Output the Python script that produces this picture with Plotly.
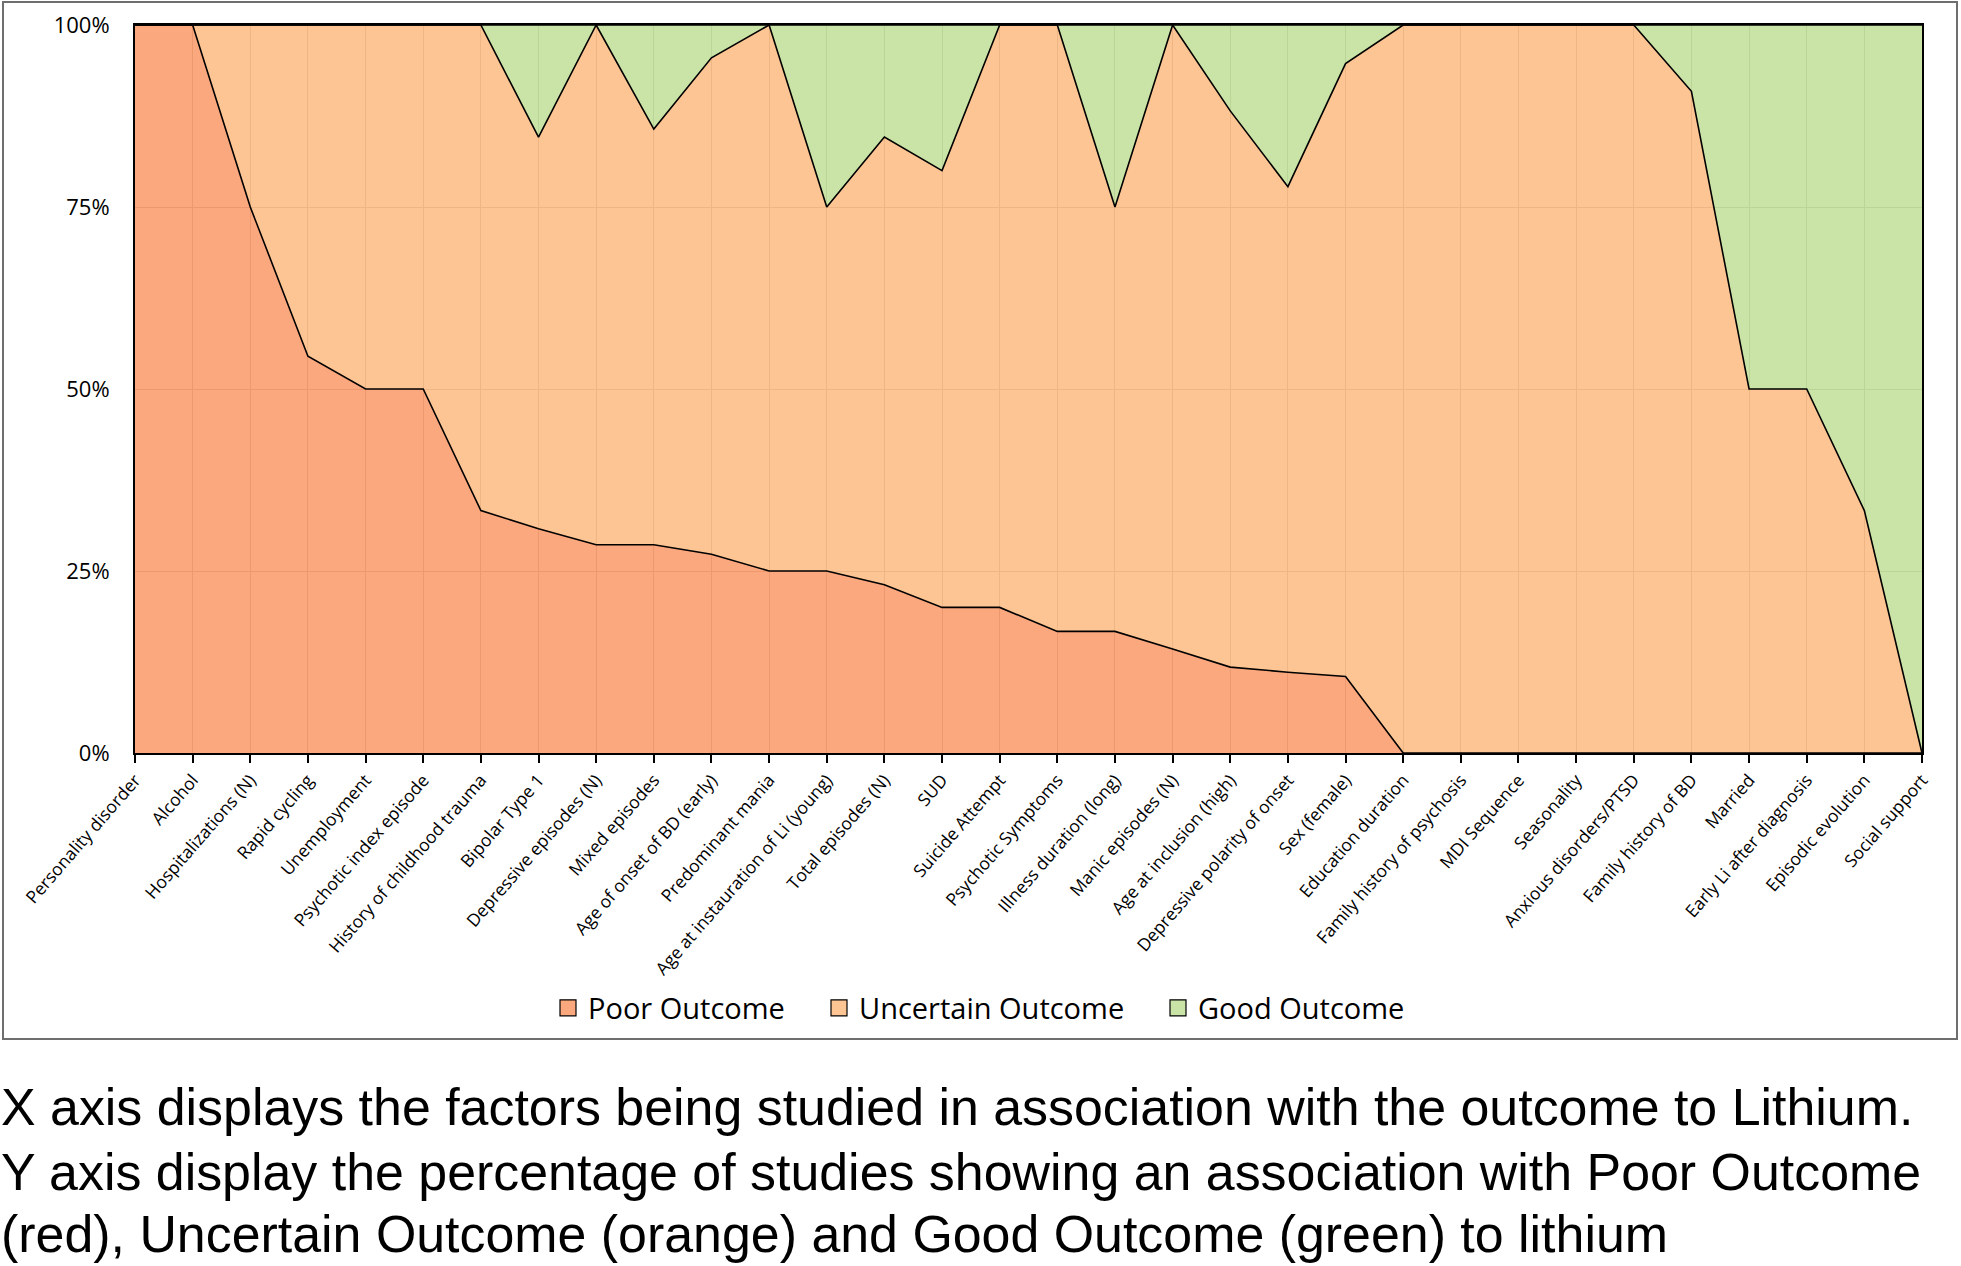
import plotly.graph_objects as go

categories = [
    "Personality disorder", "Alcohol", "Hospitalizations (N)", "Rapid cycling",
    "Unemployment", "Psychotic index episode", "History of childhood trauma",
    "Bipolar Type 1", "Depressive episodes (N)", "Mixed episodes",
    "Age of onset of BD (early)", "Predominant mania",
    "Age at instauration of Li (young)", "Total episodes (N)", "SUD",
    "Suicide Attempt", "Psychotic Symptoms", "Illness duration (long)",
    "Manic episodes (N)", "Age at inclusion (high)",
    "Depressive polarity of onset", "Sex (female)", "Education duration",
    "Family history of psychosis", "MDI Sequence", "Seasonality",
    "Anxious disorders/PTSD", "Family history of BD", "Married",
    "Early Li after diagnosis", "Episodic evolution", "Social support",
]

poor = [100, 100, 75, 54.5, 50, 50, 33.3, 30.8, 28.6, 28.6, 27.3, 25, 25, 23.1,
        20, 20, 16.7, 16.7, 14.3, 11.8, 11.1, 10.5, 0, 0, 0, 0, 0, 0, 0, 0, 0, 0]
good = [0, 0, 0, 0, 0, 0, 0, 15.4, 0, 14.3, 4.5, 0, 25, 15.4, 20, 0, 0, 25, 0,
        11.8, 22.2, 5.3, 0, 0, 0, 0, 0, 9.1, 50, 50, 66.7, 100]
uncertain = [round(100 - p - g, 1) for p, g in zip(poor, good)]

series_names = ["Poor Outcome", "Uncertain Outcome", "Good Outcome"]
tick_vals = [0, 25, 50, 75, 100]
tick_text = ["0%", "25%", "50%", "75%", "100%"]
caption_lines = [
    "X axis displays the factors being studied in association with the outcome to Lithium.",
    "Y axis display the percentage of studies showing an association with Poor Outcome",
    "(red), Uncertain Outcome (orange) and Good Outcome (green) to lithium",
]

# ---- layout geometry (pixels) ----
W, H = 1961, 1266
L, R, T, B = 135, 1922, 25, 753
PW, PH = R - L, B - T


def px_x(x):
    return (x - L) / PW


def px_y(y):
    return (B - y) / PH


fills = ["rgba(251,153,103,0.85)", "rgba(253,187,129,0.85)", "rgba(193,222,151,0.85)"]
solid = ["#FCA87E", "#FDC594", "#CAE3A7"]

fig = go.Figure()
for name, vals, fc in zip(series_names, [poor, uncertain, good], fills):
    fig.add_trace(go.Scatter(
        x=categories, y=vals, name=name, mode="lines", stackgroup="one",
        line=dict(color="black", width=1.6), fillcolor=fc, showlegend=False,
        hoverinfo="x+y+name",
    ))

legend_ids = ["legend", "legend2", "legend3"]
legend_text_x = [588, 859, 1198]
for name, col, lid in zip(series_names, solid, legend_ids):
    fig.add_trace(go.Scatter(
        x=[None], y=[None], mode="markers", name=name, legend=lid,
        marker=dict(symbol="square", size=18, color=col,
                    line=dict(color="black", width=1.2)),
    ))

legend_common = dict(
    orientation="h", yanchor="middle", y=px_y(1008), xanchor="left",
    font=dict(family="Open Sans", size=29, color="black"),
    bgcolor="rgba(0,0,0,0)", borderwidth=0,
)
layout_legends = {}
for lid, tx in zip(legend_ids, legend_text_x):
    layout_legends[lid] = dict(legend_common, x=px_x(tx - 40))

annotations = []
for line, yc in zip(caption_lines, [1107, 1172, 1234]):
    annotations.append(dict(
        text=line, xref="paper", yref="paper", x=px_x(0), y=px_y(yc),
        xanchor="left", yanchor="middle", showarrow=False, align="left",
        borderpad=0,
        font=dict(family="Liberation Sans", size=51.9, color="black"),
    ))

fig.update_layout(
    width=W, height=H,
    margin=dict(l=L, r=W - R, t=T, b=H - B, autoexpand=False),
    paper_bgcolor="white", plot_bgcolor="white",
    showlegend=True,
    annotations=annotations,
    shapes=[dict(type="rect", xref="paper", yref="paper",
                 x0=px_x(3), x1=px_x(1957), y0=px_y(1039), y1=px_y(2),
                 line=dict(color="#6e6e6e", width=2), fillcolor="rgba(0,0,0,0)",
                 layer="below")],
    **layout_legends,
)

fig.update_xaxes(
    type="category", range=[0, len(categories) - 1], tickangle=-49,
    showgrid=True, gridcolor="#9c9c9c", gridwidth=1,
    showline=True, linecolor="black", linewidth=2, mirror=True,
    ticks="outside", ticklen=8, tickwidth=1.5, tickcolor="black",
    tickfont=dict(family="Open Sans", size=17.5, color="black"),
    zeroline=False, fixedrange=True,
)
fig.update_yaxes(
    range=[0, 100], tickmode="array", tickvals=tick_vals, ticktext=tick_text,
    showgrid=True, gridcolor="#9c9c9c", gridwidth=1,
    showline=True, linecolor="black", linewidth=2, mirror=True,
    ticks="", ticklabelstandoff=19,
    tickfont=dict(family="Open Sans", size=22, color="black"),
    zeroline=False, fixedrange=True,
)

fig.write_html("out.html", config={"displayModeBar": False},
               post_script="document.body.style.margin='0';")
